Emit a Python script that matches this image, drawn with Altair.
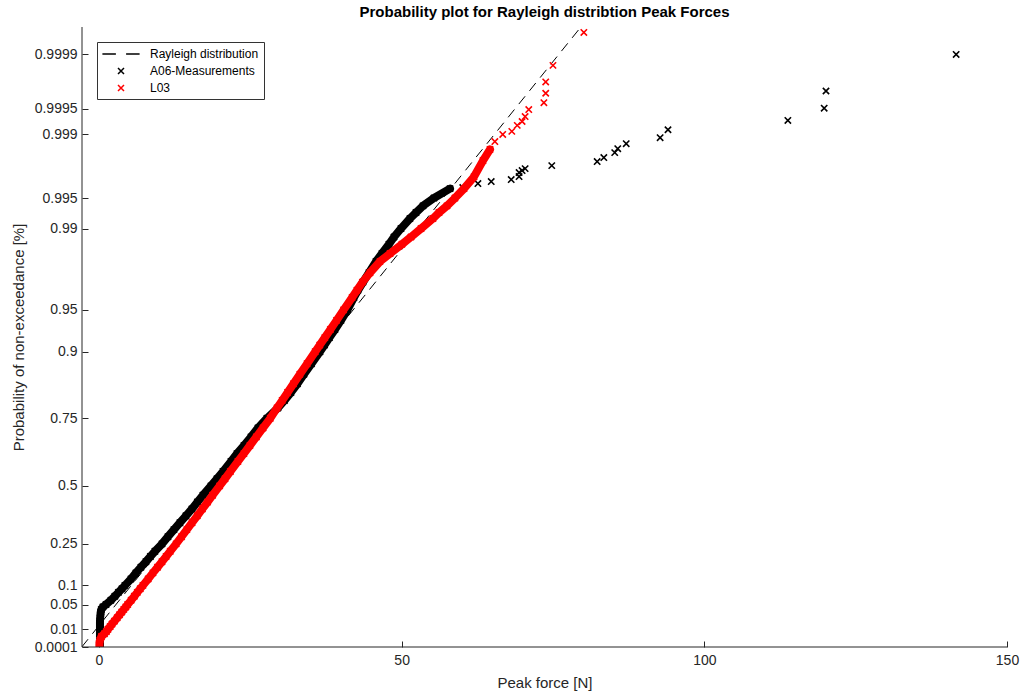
import altair as alt
import numpy as np
import pandas as pd

# ---- data -------------------------------------------------------------
# A06 measurements, dense part: non-exceedance probability and peak force [N]
a06_p = [0.0001, 0.0005, 0.001, 0.002, 0.004, 0.006, 0.008, 0.01, 0.013, 0.016,
         0.02, 0.025, 0.03, 0.035, 0.04, 0.045, 0.05, 0.06, 0.07, 0.08, 0.09,
         0.10, 0.12, 0.14, 0.16, 0.18, 0.20, 0.22, 0.25, 0.28, 0.31, 0.34, 0.37,
         0.40, 0.43, 0.46, 0.50, 0.53, 0.56, 0.60, 0.63, 0.66, 0.69, 0.72, 0.75,
         0.78, 0.80, 0.82, 0.84, 0.86, 0.88, 0.90, 0.91, 0.92, 0.93, 0.94, 0.95,
         0.96, 0.965, 0.97, 0.975, 0.98, 0.983, 0.986, 0.988, 0.99, 0.992, 0.993,
         0.994, 0.995, 0.996]
a06_force = [0.17, 0.17, 0.17, 0.17, 0.17, 0.17, 0.17, 0.17, 0.17, 0.17,
             0.17, 0.2, 0.25, 0.3, 0.4, 0.66, 1.16, 1.98, 2.64, 3.22, 3.80,
             4.30, 5.29, 6.11, 6.94, 7.76, 8.51, 9.25, 10.41, 11.40, 12.39, 13.38, 14.37,
             15.36, 16.27, 17.18, 18.50, 19.49, 20.49, 21.81, 22.80, 23.95, 25.11, 26.27, 27.75,
             29.57, 30.65, 31.72, 32.79, 33.87, 35.11, 36.51, 37.26, 38.08, 38.99, 39.98, 41.05,
             42.13, 42.79, 43.62, 44.61, 45.76, 46.75, 47.91, 48.74, 49.89, 51.38, 52.37,
             53.53, 55.34, 57.99]
# A06 measurements, upper tail
a06_tail_p = [0.99610, 0.99646, 0.99663, 0.99679, 0.99702, 0.99730, 0.99743, 0.99755,
              0.99773, 0.99795, 0.99815, 0.99837, 0.99853, 0.99871, 0.99890, 0.99911,
              0.99931, 0.99951, 0.99970, 0.99990]
a06_tail_force = [60.1, 62.6, 64.8, 68.1, 69.4, 69.4, 69.9, 70.4,
                  74.8, 82.3, 83.4, 85.2, 85.7, 87.1, 92.7, 94.0,
                  113.8, 119.8, 120.1, 141.6]

# L03, dense part
l03_p = a06_p + [0.997, 0.998, 0.9985]
l03_force = [0.08, 0.08, 0.08, 0.17, 0.41, 0.91, 1.24, 1.49, 1.85, 2.16,
             2.56, 3.01, 3.40, 3.77, 4.11, 4.44, 4.74, 5.32, 5.85, 6.34, 6.82,
             7.27, 8.13, 8.92, 9.68, 10.41, 11.10, 11.78, 12.75, 13.65, 14.52, 15.38, 16.24,
             17.08, 17.94, 18.78, 19.94, 20.82, 21.72, 22.96, 23.94, 24.94, 26.00, 27.11, 28.30,
             29.42, 30.27, 31.16, 32.13, 33.19, 34.38, 35.72, 36.48, 37.31, 38.23, 39.25, 40.41,
             41.82, 42.62, 43.53, 44.77, 46.43, 48.08, 50.06, 51.55, 53.20, 55.18, 56.17,
             57.49, 58.81, 60.30, 61.95, 63.44, 64.60]
# L03, upper tail
l03_tail_p = [0.99878, 0.99899, 0.99907, 0.99921, 0.99929, 0.99938, 0.99949,
              0.99958, 0.99968, 0.99977, 0.99986, 0.99995]
l03_tail_force = [65.4, 66.7, 68.2, 69.1, 69.9, 70.4, 71.0,
                  73.5, 73.8, 73.8, 75.0, 80.1]

# fitted Rayleigh reference line (location / scale) and its probability span
rayleigh_loc = -3.1
rayleigh_scale = 18.42
rayleigh_p = [0.0001, 0.99999]

# axis ticks
tick_p = [0.0001, 0.01, 0.05, 0.1, 0.25, 0.5, 0.75, 0.9, 0.95, 0.99,
          0.995, 0.999, 0.9995, 0.9999]
tick_labels = ["0.0001", "0.01", "0.05", "0.1", "0.25", "0.5", "0.75", "0.9",
               "0.95", "0.99", "0.995", "0.999", "0.9995", "0.9999"]
x_ticks = [0, 50, 100, 150]

series_names = ["Rayleigh distribution", "A06-Measurements", "L03"]
series_colors = ["black", "black", "#ff0000"]

FONT = "Liberation Sans"
AXIS_COLOR = "#262626"
X_MIN, X_MAX = -2.8, 150
Y_MAX = 4.49


def rayleigh_q(p):
    """Rayleigh probability-paper coordinate of a non-exceedance probability."""
    return np.sqrt(-2.0 * np.log(1.0 - np.asarray(p, dtype=float)))


# ---- tables -----------------------------------------------------------
def frame(name, p, force):
    return pd.DataFrame({"series": name, "p": p, "force": force, "q": rayleigh_q(p)})


a06_dense = frame("A06-Measurements", a06_p, a06_force)
l03_dense = frame("L03", l03_p, l03_force)
points = pd.concat([
    a06_dense,
    frame("A06-Measurements", a06_tail_p, a06_tail_force),
    l03_dense,
    frame("L03", l03_tail_p, l03_tail_force),
], ignore_index=True)

ray_q = rayleigh_q(rayleigh_p)
ray = pd.DataFrame({"q": ray_q, "force": rayleigh_loc + rayleigh_scale * ray_q})

tick_q = rayleigh_q(tick_p)
y_min = float(tick_q[0])

expr = ""
for i in range(len(tick_q) - 1):
    mid = (tick_q[i] + tick_q[i + 1]) / 2
    expr += f"datum.value < {mid:.5f} ? '{tick_labels[i]}' : "
expr += f"'{tick_labels[-1]}'"

# ---- encodings --------------------------------------------------------
x_enc = alt.X("force:Q",
              scale=alt.Scale(domain=[X_MIN, X_MAX], nice=False, zero=False),
              axis=alt.Axis(values=x_ticks, title="Peak force [N]", offset=-6,
                            tickSize=6, domain=False, grid=False, labelPadding=6,
                            titlePadding=8))
y_enc = alt.Y("q:Q",
              scale=alt.Scale(domain=[y_min, Y_MAX], nice=False, zero=False),
              axis=alt.Axis(values=[float(v) for v in tick_q], labelExpr=expr,
                            title="Probability of non-exceedance [%]", offset=-6,
                            tickSize=6, domain=False, grid=False, labelPadding=5,
                            titlePadding=8))

CROSS = "M-0.5,-0.5L0.5,0.5M-0.5,0.5L0.5,-0.5"
DASH = "M-3.1,0L-0.85,0M0.85,0L3.1,0"

legend = alt.Legend(orient="none", legendX=15, legendY=15, title=None,
                    fillColor="white", strokeColor="#333333", padding=5,
                    labelFont=FONT, labelFontSize=12, labelColor="black",
                    symbolSize=144, symbolStrokeWidth=1.5, rowPadding=4,
                    symbolOffset=12, labelOffset=22, labelLimit=300)

color_enc = alt.Color("series:N",
                      scale=alt.Scale(domain=series_names, range=series_colors),
                      legend=legend)
shape_enc = alt.Shape("series:N",
                      scale=alt.Scale(domain=series_names, range=[DASH, CROSS, CROSS]),
                      legend=legend)

# ---- layers -----------------------------------------------------------
ray_line = alt.Chart(ray).mark_line(color="black", strokeWidth=1, strokeDash=[10, 7],
                                    clip=True).encode(x=x_enc, y=y_enc)

# the densely packed markers merge into a solid band
band_a06 = alt.Chart(a06_dense).mark_line(color="black", strokeWidth=8, clip=True,
                                          strokeJoin="round", strokeCap="round").encode(
    x="force:Q", y="q:Q", order="p:Q")
band_l03 = alt.Chart(l03_dense).mark_line(color="#ff0000", strokeWidth=8, clip=True,
                                          strokeJoin="round", strokeCap="round").encode(
    x="force:Q", y="q:Q", order="p:Q")

marks_a06 = alt.Chart(points[points.series == "A06-Measurements"]).mark_point(
    filled=False, size=160, strokeWidth=1.6, opacity=1, clip=True).encode(
    x="force:Q", y="q:Q", color=color_enc, shape=shape_enc)
marks_l03 = alt.Chart(points[points.series == "L03"]).mark_point(
    filled=False, size=160, strokeWidth=1.6, opacity=1, clip=True).encode(
    x="force:Q", y="q:Q", color=color_enc, shape=shape_enc)

# axis lines on the left and bottom edges only
left_edge = alt.Chart(pd.DataFrame({"force": [X_MIN]})).mark_rule(
    color=AXIS_COLOR, strokeWidth=1).encode(x="force:Q")
bottom_edge = alt.Chart(pd.DataFrame({"q": [y_min]})).mark_rule(
    color=AXIS_COLOR, strokeWidth=1).encode(y="q:Q")

chart = alt.layer(
    ray_line, band_a06, marks_a06, band_l03, marks_l03, left_edge, bottom_edge
).properties(
    width=925, height=620,
    padding={"left": 82, "top": 27, "right": 14, "bottom": 48},
    autosize=alt.AutoSizeParams(type="none"),
    title=alt.TitleParams("Probability plot for Rayleigh distribtion Peak Forces",
                          font=FONT, fontSize=15, fontWeight="bold", color="black",
                          anchor="middle", offset=7),
).configure_view(stroke=None).configure_axis(
    labelFont=FONT, titleFont=FONT, labelFontSize=14, titleFontSize=15,
    labelColor=AXIS_COLOR, titleColor=AXIS_COLOR, tickColor=AXIS_COLOR,
    titleFontWeight="normal", labelFlush=False
)

chart.save("out.html", embed_options={"renderer": "svg", "actions": False})
